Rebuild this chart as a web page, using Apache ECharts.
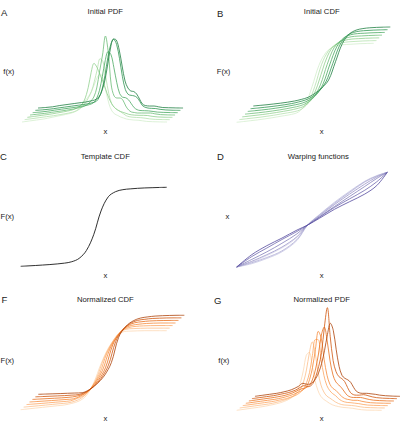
<!DOCTYPE html>
<html><head><meta charset="utf-8">
<script src="https://cdn.jsdelivr.net/npm/echarts@6/dist/echarts.min.js"></script>
<style>html,body{margin:0;padding:0;background:#fff}#c{width:401px;height:423px}</style>
</head><body><div id="c"></div>
<script>
// ---------- DATA ----------
const pdfGrid = [0,0.05,0.1,0.15,0.2,0.25,0.3,0.33,0.36,0.39,0.42,0.44,0.46,0.48,0.5,0.52,0.54,0.56,0.58,0.6,0.62,0.64,0.66,0.68,0.7,0.72,0.74,0.77,0.8,0.83,0.86,0.9,0.95,1];
const cdfGrid = [0,0.05,0.1,0.15,0.2,0.25,0.3,0.35,0.4,0.45,0.5,0.55,0.6,0.65,0.7,0.75,0.8,0.85,0.9,0.95,1];
const warpGrid = [0,0.1,0.2,0.3,0.4,0.471,0.55,0.65,0.75,0.85,0.93,1];

const initialPdf = [
  [0,.01,.02,.03,.045,.06,.075,.085,.10,.13,.18,.22,.26,.31,.38,.45,.48,.42,.30,.18,.11,.08,.065,.05,.04,.03,.025,.02,.018,.012,.006,.003,.001,0],
  [0,.01,.02,.03,.04,.052,.065,.075,.09,.12,.17,.22,.28,.38,.50,.61,.58,.42,.26,.16,.12,.10,.08,.06,.04,.03,.025,.022,.02,.015,.008,.003,.001,0],
  [0,.01,.02,.03,.042,.055,.07,.085,.11,.16,.30,.45,.54,.50,.43,.36,.28,.20,.14,.10,.075,.06,.05,.04,.03,.025,.022,.02,.02,.018,.01,.004,.001,0],
  [0,.008,.016,.027,.037,.048,.06,.07,.08,.10,.14,.18,.27,.44,.60,.79,.62,.30,.19,.17,.17,.15,.09,.05,.03,.025,.02,.02,.02,.02,.012,.004,.001,0],
  [0,.006,.014,.025,.035,.045,.055,.062,.07,.08,.10,.14,.22,.36,.52,.61,.58,.45,.30,.19,.155,.15,.13,.09,.05,.03,.022,.02,.018,.012,.006,.003,.001,0],
  [0,.005,.012,.022,.032,.042,.052,.058,.065,.075,.09,.13,.21,.35,.53,.66,.71,.66,.52,.34,.21,.16,.15,.145,.13,.09,.045,.025,.02,.018,.01,.004,.001,0],
  [0,.005,.012,.025,.035,.045,.055,.06,.07,.08,.11,.17,.27,.43,.60,.69,.68,.58,.42,.27,.20,.17,.165,.14,.09,.04,.025,.02,.02,.012,.005,.003,.001,0]
];
const initialCdf = [
  [0,.01,.02,.03,.042,.055,.07,.085,.10,.13,.22,.45,.72,.88,.95,.975,.985,.99,.995,.998,1],
  [0,.01,.02,.03,.042,.055,.07,.085,.10,.13,.21,.42,.70,.87,.945,.972,.985,.99,.995,.998,1],
  [0,.01,.02,.03,.042,.055,.07,.085,.105,.135,.21,.40,.67,.86,.94,.97,.985,.99,.995,.998,1],
  [0,.009,.018,.028,.04,.053,.068,.085,.105,.14,.21,.37,.63,.84,.93,.97,.985,.99,.995,.998,1],
  [0,.009,.018,.028,.04,.053,.068,.085,.107,.145,.21,.35,.60,.82,.93,.97,.985,.99,.995,.998,1],
  [0,.008,.017,.027,.038,.05,.065,.085,.11,.15,.22,.34,.57,.80,.92,.965,.983,.99,.995,.998,1],
  [0,.008,.016,.026,.036,.048,.063,.083,.11,.16,.23,.33,.56,.79,.91,.96,.98,.99,.995,.998,1]
];
const templateCdf = [0,.005,.01,.016,.022,.03,.04,.058,.10,.20,.40,.70,.88,.945,.97,.98,.987,.992,.995,.998,1];
const warpingFunctions = [
  [0,.05,.12,.20,.31,.443,.545,.67,.785,.895,.96,1],
  [0,.035,.09,.16,.28,.443,.555,.685,.80,.905,.965,1],
  [0,.045,.10,.17,.29,.443,.55,.675,.79,.90,.96,1],
  [0,.06,.13,.21,.32,.443,.54,.66,.77,.875,.95,1],
  [0,.08,.16,.25,.35,.443,.53,.64,.745,.85,.935,1],
  [0,.11,.20,.29,.375,.443,.525,.63,.72,.81,.90,1],
  [0,.13,.225,.305,.39,.443,.515,.61,.69,.77,.86,1]
];
const normalizedCdf = [
  [0,.01,.02,.03,.04,.05,.06,.08,.11,.18,.34,.58,.78,.91,.985,.995,.998,1,1,1,1],
  [0,.009,.017,.026,.035,.044,.053,.075,.12,.21,.37,.62,.80,.93,.985,.994,.998,1,1,1,1],
  [0,.007,.014,.022,.03,.038,.047,.08,.125,.23,.39,.65,.82,.93,.975,.99,.996,.999,1,1,1],
  [0,.006,.012,.018,.025,.032,.04,.075,.135,.24,.40,.67,.83,.93,.97,.985,.994,.998,1,1,1],
  [0,.005,.01,.015,.02,.027,.04,.07,.135,.24,.40,.69,.845,.93,.97,.984,.993,.997,.999,1,1],
  [0,.004,.008,.012,.016,.022,.03,.065,.13,.235,.40,.70,.855,.93,.968,.982,.992,.996,.999,1,1],
  [0,.003,.006,.009,.013,.016,.02,.06,.13,.23,.40,.72,.86,.93,.965,.98,.99,.995,.998,1,1]
];
const normalizedPdf = [
  [0,.01,.02,.03,.042,.057,.075,.09,.11,.14,.20,.28,.40,.55,.58,.45,.30,.20,.14,.11,.09,.07,.055,.045,.038,.032,.028,.025,.02,.012,.006,.002,.001,0],
  [0,.01,.02,.03,.04,.055,.075,.09,.11,.14,.19,.26,.38,.55,.66,.55,.36,.23,.16,.12,.10,.08,.06,.045,.035,.03,.028,.025,.02,.012,.006,.003,.001,0],
  [0,.01,.02,.03,.04,.055,.07,.085,.10,.125,.17,.23,.33,.50,.66,.66,.46,.30,.20,.15,.12,.10,.07,.05,.038,.032,.03,.025,.02,.012,.006,.003,.001,0],
  [0,.01,.02,.03,.04,.055,.075,.09,.11,.13,.17,.24,.36,.54,.72,.65,.44,.28,.19,.15,.13,.10,.07,.05,.04,.035,.03,.03,.02,.012,.006,.003,.001,0],
  [0,.01,.02,.03,.042,.057,.08,.10,.12,.13,.16,.22,.32,.47,.66,.74,.60,.40,.26,.19,.16,.13,.09,.055,.04,.035,.035,.035,.025,.015,.008,.004,.001,0],
  [0,.01,.02,.03,.045,.06,.085,.11,.13,.12,.15,.22,.32,.46,.72,.91,.62,.38,.27,.22,.20,.17,.11,.06,.04,.035,.035,.04,.03,.018,.01,.005,.002,0],
  [0,.01,.02,.03,.045,.065,.10,.13,.12,.13,.18,.24,.33,.46,.62,.73,.66,.47,.30,.21,.18,.165,.14,.09,.05,.035,.03,.03,.025,.02,.012,.006,.002,0]
];

const panelLetters = ['A','B','C','D','F','G'];
const panelTitles = ['Initial PDF','Initial CDF','Template CDF','Warping functions','Normalized CDF','Normalized PDF'];
const yLabels = ['f(x)','F(x)','F(x)','x','F(x)','f(x)'];
const xLabels = ['x','x','x','x','x','x'];

// ---------- STYLE / LAYOUT ----------
const greens  = ['#d3eecd','#b5e1ae','#92d08f','#6cbd77','#4aaa62','#309752','#1f8043'];
const oranges = ['#fdd8b4','#fdbf8a','#fca55f','#f68a3a','#e86e1c','#d0560c','#ad4107'];
const purples = ['#dcdbee','#c7c6e3','#b1aed5','#9b96c8','#8480ba','#6d66ad','#544a9e'];

const layout = [
  {curves: initialPdf,       xs: pdfGrid,  grid:{left:22,    top:22,     width:161,    height:100},   xMax:1.11, yMax:1,    dx:0.0184, dy:0.0233, colors: greens,  w:0.8},
  {curves: initialCdf,       xs: cdfGrid,  grid:{left:236.7, top:23.55,  width:154.8,  height:98.75}, xMax:1.13, yMax:1.25, dx:0.0202, dy:0.0344, colors: greens,  w:0.8},
  {curves: [templateCdf],    xs: cdfGrid,  grid:{left:20.7,  top:187.3,  width:146,    height:79},    xMax:1,    yMax:1,    dx:0,      dy:0,      colors: ['#1a1a1a'], w:0.9},
  {curves: warpingFunctions, xs: warpGrid, grid:{left:236.7, top:172.3,  width:150.6,  height:94.7},  xMax:1,    yMax:1,    dx:0,      dy:0,      colors: purples, w:0.8},
  {curves: normalizedCdf,    xs: cdfGrid,  grid:{left:20.7,  top:310.95, width:165,    height:98.75}, xMax:1.13, yMax:1.25, dx:0.0201, dy:0.0325, colors: oranges, w:0.8},
  {curves: normalizedPdf,    xs: pdfGrid,  grid:{left:236.7, top:300.3,  width:163.85, height:110},   xMax:1.13, yMax:1.1,  dx:0.021,  dy:0.0233, colors: oranges, w:0.8}
];
const textPos = [
  {letter:[1,12.7],   title:[105.3,11.5], ylab:[3.3,71.7],   xlab:[105.3,131]},
  {letter:[217,13.3], title:[321.7,11.5], ylab:[216.7,71.7], xlab:[321.7,131]},
  {letter:[0,156.8],  title:[105.3,156],  ylab:[0.5,216],    xlab:[105.3,275]},
  {letter:[217,156.3],title:[318.3,156],  ylab:[225.5,216],  xlab:[321.7,275]},
  {letter:[1.5,299.3],title:[105.3,299.3],ylab:[0.5,360.3],  xlab:[105.3,418.7]},
  {letter:[214,300.3],title:[321.7,299.3],ylab:[218.3,360.3],xlab:[321.7,418.7]}
];

const FONT = '"Liberation Sans", Arial, sans-serif';
const grids = [], xAxes = [], yAxes = [], series = [], graphics = [];
layout.forEach((p, g) => {
  grids.push(Object.assign({containLabel:false}, p.grid));
  xAxes.push({gridIndex:g, type:'value', min:0, max:p.xMax, show:false});
  yAxes.push({gridIndex:g, type:'value', min:0, max:p.yMax, show:false});
  p.curves.forEach((vals, i) => {
    series.push({
      type:'line', xAxisIndex:g, yAxisIndex:g, name: panelTitles[g] + ' ' + (i+1),
      data: p.xs.map((u, k) => [u + i*p.dx, vals[k] + i*p.dy]),
      showSymbol:false, symbol:'none', smooth:0.35, clip:false, silent:true,
      lineStyle:{color:p.colors[i], width:p.w}
    });
  });
  const t = textPos[g];
  const txt = (text, pos, size, align) => ({type:'text', x:pos[0], y:pos[1], silent:true,
    style:{text, fill:'#222222', font: size + 'px ' + FONT, align, verticalAlign:'middle'}});
  graphics.push(txt(panelLetters[g], t.letter, 9.5, 'left'));
  graphics.push(txt(panelTitles[g], t.title, 7.7, 'center'));
  graphics.push(txt(yLabels[g], t.ylab, 7.7, 'left'));
  graphics.push(txt(xLabels[g], t.xlab, 7.7, 'center'));
});

const chart = echarts.init(document.getElementById('c'), null, {renderer:'svg', width:401, height:423});
chart.setOption({
  animation:false,
  backgroundColor:'#ffffff',
  grid: grids, xAxis: xAxes, yAxis: yAxes, series, graphic: graphics
});
</script></body></html>
